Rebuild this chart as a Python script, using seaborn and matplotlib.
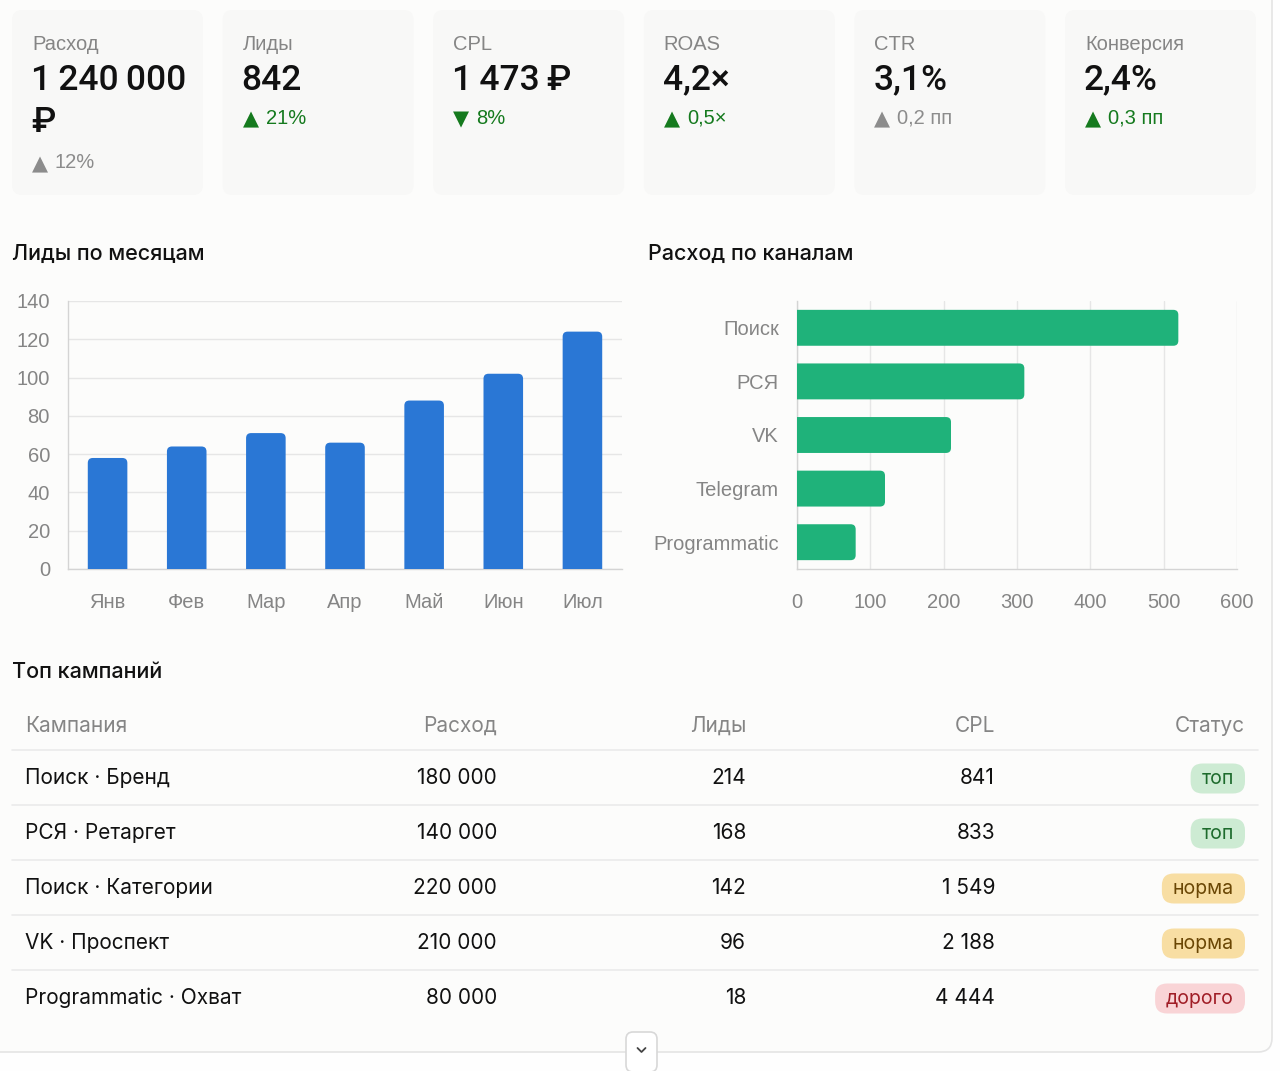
import matplotlib
matplotlib.use('Agg')
import matplotlib.pyplot as plt
from matplotlib.patches import FancyBboxPatch
import seaborn as sns

sns.set_theme(style='whitegrid')
plt.rcParams['font.family'] = ['Liberation Sans', 'DejaVu Sans']

W, H = 1280, 1071
PAGE = '#fcfcfb'
CARD = '#f8f8f7'
GRAY = '#858585'
GOOD = '#157a1e'
BLUE = '#2a77d5'
GREEN = '#1fb27a'
GRID = '#e6e6e6'

# KPI cards
kpi_labels = ['Расход', 'Лиды', 'CPL', 'ROAS', 'CTR', 'Конверсия']
kpi_values = ['1 240 000 ₽', '842', '1 473 ₽', '4,2×', '3,1%', '2,4%']
kpi_deltas = ['12%', '21%', '8%', '0,5×', '0,2 пп', '0,3 пп']
kpi_arrows = ['▲', '▲', '▼', '▲', '▲', '▲']
kpi_good = [False, True, True, True, False, True]

# charts
months = ['Янв', 'Фев', 'Мар', 'Апр', 'Май', 'Июн', 'Июл']
leads_by_month = [58, 64, 71, 66, 88, 102, 124]
channels = ['Поиск', 'РСЯ', 'VK', 'Telegram', 'Programmatic']
spend_by_channel = [520, 310, 210, 120, 80]

# table
table_cols = ['Кампания', 'Расход', 'Лиды', 'CPL', 'Статус']
campaigns = ['Поиск · Бренд', 'РСЯ · Ретаргет', 'Поиск · Категории', 'VK · Проспект', 'Programmatic · Охват']
camp_spend = [180000, 140000, 220000, 210000, 80000]
camp_leads = [214, 168, 142, 96, 18]
camp_cpl = [841, 833, 1549, 2188, 4444]
camp_status = ['топ', 'топ', 'норма', 'норма', 'дорого']
status_colors = {'топ': ('#cdebd3', '#1d6b2c'),
                 'норма': ('#f8dea3', '#6a4604'),
                 'дорого': ('#f9d4d6', '#a01d26')}

INTER = ['Inter', 'DejaVu Sans']
THIN = '\u2009'


def fmt(v):
    return f'{v:,}'.replace(',', ' ')


def round_bars(ax, px_radius, horizontal=False):
    '''swap seaborn's square bars for ones with rounded outer corners'''
    fig_w, fig_h = ax.get_window_extent().width, ax.get_window_extent().height
    x0, x1 = ax.get_xlim()
    y0, y1 = ax.get_ylim()
    ux = abs(x1 - x0) / fig_w
    uy = abs(y1 - y0) / fig_h
    for p in list(ax.patches):
        x, y, w, h = p.get_x(), p.get_y(), p.get_width(), p.get_height()
        fc = p.get_facecolor()
        p.remove()
        if horizontal:
            x, w = x - px_radius * ux, w + px_radius * ux
        else:
            y, h = y - px_radius * uy, h + px_radius * uy
        ax.add_patch(FancyBboxPatch((x, y), w, h,
                                    boxstyle=f'round,pad=0,rounding_size={px_radius * ux}',
                                    mutation_aspect=uy / ux, fc=fc, ec='none', zorder=3))


fig = plt.figure(figsize=(W / 100, H / 100), dpi=100, facecolor='#fefefe')
bg = fig.add_axes([0, 0, 1, 1])
bg.set_xlim(0, W)
bg.set_ylim(H, 0)
bg.axis('off')
bg.set_zorder(0)

# page frame
bg.add_patch(FancyBboxPatch((-30, -30), 1302, 1082, boxstyle='round,pad=0,rounding_size=14',
                            fc=PAGE, ec='#e4e4e4', lw=1.2))

# KPI cards
for i, lab in enumerate(kpi_labels):
    x0 = 12 + i * 210.6
    bg.add_patch(FancyBboxPatch((x0, 10), 191, 185, boxstyle='round,pad=0,rounding_size=10',
                                fc=CARD, ec='none'))
    tx = x0 + 20
    bg.text(tx, 44, lab, fontsize=14.5, color=GRAY, va='center', ha='left')
    val = kpi_values[i]
    dy = 118
    vkw = dict(fontsize=25.5, fontweight='medium', color='#111111', va='center',
               family=['Roboto', 'DejaVu Sans'])
    if len(val) > 9:
        first, last = val.rsplit(' ', 1)
        bg.text(tx - 1, 80, first.replace(' ', THIN), **vkw)
        bg.text(tx - 1, 122, last, **vkw)
        dy = 163
    else:
        bg.text(tx - 1, 80, val.replace(' ', THIN), **vkw)
    dcol = GOOD if kpi_good[i] else '#8c8c8c'
    bg.text(tx, dy + 1, kpi_arrows[i], fontsize=15, color=dcol, va='center',
            family=['DejaVu Sans'])
    bg.text(tx + 23, dy, kpi_deltas[i], fontsize=14.5, color=dcol, va='center')

# section titles
for tx, ty, title in [(12, 254, 'Лиды по месяцам'), (648, 254, 'Расход по каналам'),
                      (12, 672, 'Топ кампаний')]:
    bg.text(tx, ty, title, fontsize=15.5, fontweight='medium', color='#111111',
            va='center', family=INTER)


def style_axes(ax):
    ax.set_zorder(2)
    ax.patch.set_alpha(0)
    for s in ['top', 'right']:
        ax.spines[s].set_visible(False)
    for s in ['left', 'bottom']:
        ax.spines[s].set_color('#d4d4d4')
        ax.spines[s].set_linewidth(1)
    ax.set_xlabel('')
    ax.set_ylabel('')
    ax.tick_params(colors=GRAY, labelsize=14.5, labelcolor=GRAY)


# monthly leads
ax1 = fig.add_axes([68 / W, 1 - 569 / H, (622 - 68) / W, (569 - 301) / H])
sns.barplot(x=months, y=leads_by_month, color=BLUE, saturation=1, width=0.5, ax=ax1, zorder=3)
style_axes(ax1)
ax1.set_ylim(0, 140)
ax1.set_yticks(range(0, 141, 20))
ax1.grid(axis='y', color=GRID, lw=1)
ax1.grid(axis='x', visible=False)
ax1.tick_params(axis='y', length=9, color=GRID, pad=4)
ax1.tick_params(axis='x', length=0, pad=17)
round_bars(ax1, 5)

# spend by channel
ax2 = fig.add_axes([797 / W, 1 - 569 / H, (1237 - 797) / W, (569 - 301) / H])
sns.barplot(x=spend_by_channel, y=channels, orient='h', color=GREEN, saturation=1,
            width=0.67, ax=ax2, zorder=3)
style_axes(ax2)
ax2.set_xlim(0, 600)
ax2.set_xticks(range(0, 601, 100))
ax2.grid(axis='x', color=GRID, lw=1)
ax2.grid(axis='y', visible=False)
ax2.tick_params(axis='x', length=5, color=GRID, pad=12)
ax2.tick_params(axis='y', length=0, pad=13)
round_bars(ax2, 5, horizontal=True)

# table
col_x = [25, 497, 746, 995, 1245]
bg.text(col_x[0], 726, table_cols[0], fontsize=15, color=GRAY, va='center', ha='left', family=INTER)
for j in range(1, 5):
    bg.text(col_x[j], 726, table_cols[j], fontsize=15, color=GRAY, va='center', ha='right',
            family=INTER)
for k in range(5):
    bg.plot([12, 1258], [750 + 55 * k, 750 + 55 * k], color='#ebebeb', lw=1.2)

fig.canvas.draw()
rend = fig.canvas.get_renderer()
for r, name in enumerate(campaigns):
    y = 778 + 55 * r
    bg.text(col_x[0], y, name, fontsize=15, color='#111111', va='center', ha='left', family=INTER)
    for j, v in zip([1, 2, 3], [camp_spend[r], camp_leads[r], camp_cpl[r]]):
        bg.text(col_x[j], y, fmt(v), fontsize=15, color='#111111', va='center', ha='right',
                family=INTER)
    st = camp_status[r]
    fc, tc = status_colors[st]
    t = bg.text(col_x[4] - 11, y + 1, st, fontsize=14, color=tc, va='center', ha='right',
                family=INTER, zorder=4)
    tw = t.get_window_extent(rend).width
    bg.add_patch(FancyBboxPatch((col_x[4] - tw - 22, y - 14.5), tw + 22, 30,
                                boxstyle='round,pad=0,rounding_size=12', fc=fc, ec='none', zorder=3))

# scroll button
bg.add_patch(FancyBboxPatch((626, 1032), 31, 40, boxstyle='round,pad=0,rounding_size=7',
                            fc='white', ec='#d8d8d8', lw=1.2, zorder=5))
bg.plot([637.5, 641.5, 645.5], [1048, 1052, 1048], color='#444444', lw=1.3, zorder=6)

fig.savefig('out.png', dpi=100, facecolor=fig.get_facecolor())
